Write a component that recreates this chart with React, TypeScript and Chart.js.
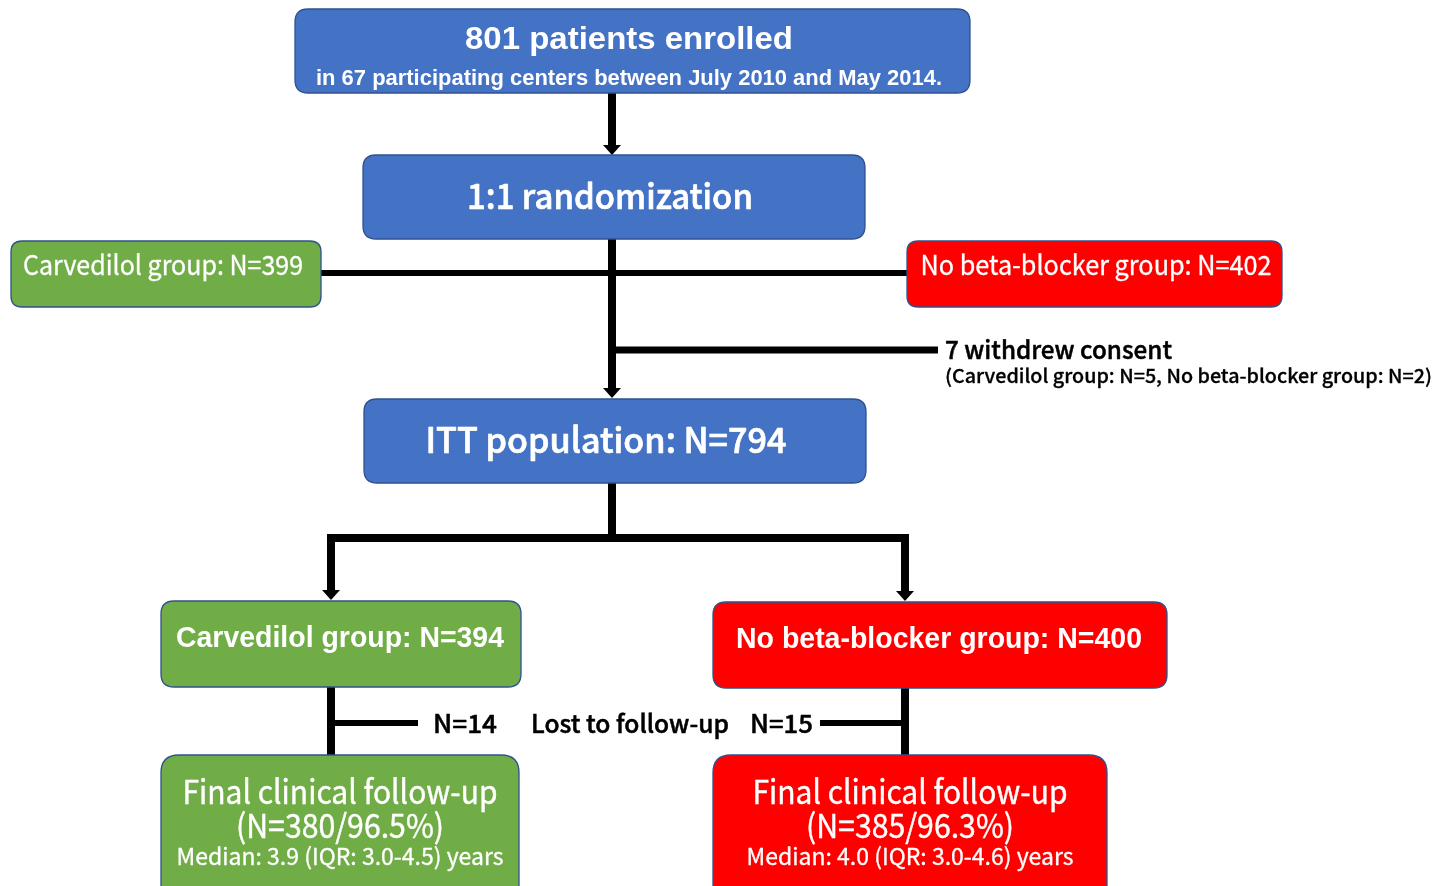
import React, { useEffect, useRef } from "react";
import { Chart, registerables } from "chart.js";

Chart.register(...registerables);

// ---------------- Data ----------------
const enrolled = 801;
const centers = 67;
const enrollStart = "July 2010";
const enrollEnd = "May 2014";
const groupNames = ["Carvedilol group", "No beta-blocker group"];
const randomizedN = [399, 402];
const withdrewN = [5, 2];
const ittN = 794;
const ittGroupN = [394, 400];
const lostN = [14, 15];
const finalN = [380, 385];
const finalPct = [96.5, 96.3];
const medianYears = [3.9, 4.0];
const iqrLow = [3.0, 3.0];
const iqrHigh = [4.5, 4.6];

// ---------------- Layout (in chart units) ----------------
const W = 1449;
const H = 886;
const BLUE = "#4472C4";
const GREEN = "#70AD47";
const RED = "#FF0000";
const EDGE = "#2F528F";
const LIB = "'Liberation Sans', Arial, sans-serif";
const CJK = "'Noto Sans CJK JP', 'Noto Sans', sans-serif";

type Box = { x0: number; y0: number; x1: number; y1: number; fill: string; r: number };
const boxes: Box[] = [
  { x0: 295, y0: 9, x1: 970, y1: 93, fill: BLUE, r: 13 },
  { x0: 363, y0: 155, x1: 865, y1: 239, fill: BLUE, r: 13 },
  { x0: 11, y0: 241, x1: 321, y1: 307, fill: GREEN, r: 11 },
  { x0: 907, y0: 241, x1: 1282, y1: 307, fill: RED, r: 11 },
  { x0: 364, y0: 399, x1: 866, y1: 483, fill: BLUE, r: 13 },
  { x0: 161, y0: 601, x1: 521, y1: 687, fill: GREEN, r: 13 },
  { x0: 713, y0: 602, x1: 1167, y1: 688, fill: RED, r: 13 },
  { x0: 161, y0: 755, x1: 519, y1: 905, fill: GREEN, r: 18 },
  { x0: 713, y0: 755, x1: 1107, y1: 905, fill: RED, r: 18 },
];

type Conn = { pts: [number, number][]; w: number };
const connectors: Conn[] = [
  { pts: [[612, 93], [612, 146]], w: 8 },
  { pts: [[612, 239], [612, 389]], w: 8 },
  { pts: [[321, 273], [907, 273]], w: 6 },
  { pts: [[612, 350], [938, 350]], w: 7 },
  { pts: [[612, 483], [612, 538]], w: 8 },
  { pts: [[331, 591], [331, 538], [905, 538], [905, 592]], w: 8 },
  { pts: [[331, 687], [331, 755]], w: 8 },
  { pts: [[331, 723], [418, 723]], w: 6 },
  { pts: [[905, 688], [905, 755]], w: 8 },
  { pts: [[820, 723], [905, 723]], w: 6 },
];

// arrowheads: x, tip y, width, height
const arrows: [number, number, number, number][] = [
  [612, 155, 18, 10],
  [612, 398, 18, 10],
  [331, 600, 18, 10],
  [905, 601, 18, 10],
];

type Txt = {
  s: string; x: number; y: number; w: number; size: number; fam: string;
  weight: string; align: CanvasTextAlign; color: string; stroke: number;
};
const fmtN = (n: number) => `N=${n}`;
const texts: Txt[] = [
  { s: `${enrolled} patients enrolled`, x: 629, y: 40, w: 328, size: 32, fam: LIB, weight: "bold", align: "center", color: "#fff", stroke: 0 },
  { s: `in ${centers} participating centers between ${enrollStart} and ${enrollEnd}.`, x: 629, y: 79, w: 626, size: 22, fam: LIB, weight: "bold", align: "center", color: "#fff", stroke: 0 },
  { s: "1:1 randomization", x: 610, y: 196, w: 286, size: 35, fam: CJK, weight: "500", align: "center", color: "#fff", stroke: 0.7 },
  { s: `${groupNames[0]}: ${fmtN(randomizedN[0])}`, x: 163, y: 265, w: 280, size: 27, fam: CJK, weight: "400", align: "center", color: "#fff", stroke: 0.3 },
  { s: `${groupNames[1]}: ${fmtN(randomizedN[1])}`, x: 1096, y: 265, w: 351, size: 27, fam: CJK, weight: "400", align: "center", color: "#fff", stroke: 0.3 },
  { s: `${withdrewN[0] + withdrewN[1]} withdrew consent`, x: 945, y: 349, w: 227, size: 25, fam: CJK, weight: "500", align: "left", color: "#000", stroke: 0.5 },
  { s: `(${groupNames[0]}: ${fmtN(withdrewN[0])}, ${groupNames[1]}: ${fmtN(withdrewN[1])})`, x: 945, y: 376, w: 487, size: 19, fam: CJK, weight: "500", align: "left", color: "#000", stroke: 0.3 },
  { s: `ITT population: ${fmtN(ittN)}`, x: 606, y: 440, w: 361, size: 35, fam: CJK, weight: "500", align: "center", color: "#fff", stroke: 0.7 },
  { s: `${groupNames[0]}: ${fmtN(ittGroupN[0])}`, x: 340, y: 639, w: 328, size: 29, fam: LIB, weight: "bold", align: "center", color: "#fff", stroke: 0 },
  { s: `${groupNames[1]}: ${fmtN(ittGroupN[1])}`, x: 939, y: 640, w: 406, size: 29, fam: LIB, weight: "bold", align: "center", color: "#fff", stroke: 0 },
  { s: fmtN(lostN[0]), x: 433, y: 723, w: 64, size: 25, fam: CJK, weight: "500", align: "left", color: "#000", stroke: 0.5 },
  { s: "Lost to follow-up", x: 531, y: 723, w: 198, size: 25, fam: CJK, weight: "500", align: "left", color: "#000", stroke: 0.5 },
  { s: fmtN(lostN[1]), x: 750, y: 723, w: 63, size: 25, fam: CJK, weight: "500", align: "left", color: "#000", stroke: 0.5 },
];
const finalCx = [340, 910];
for (let i = 0; i < 2; i++) {
  texts.push(
    { s: "Final clinical follow-up", x: finalCx[i], y: 791, w: 315, size: 33, fam: CJK, weight: "400", align: "center", color: "#fff", stroke: 0.4 },
    { s: `(${fmtN(finalN[i])}/${finalPct[i].toFixed(1)}%)`, x: finalCx[i], y: 825, w: 208, size: 33, fam: CJK, weight: "400", align: "center", color: "#fff", stroke: 0.4 },
    { s: `Median: ${medianYears[i].toFixed(1)} (IQR: ${iqrLow[i].toFixed(1)}-${iqrHigh[i].toFixed(1)}) years`, x: finalCx[i], y: 856, w: 327, size: 23, fam: CJK, weight: "400", align: "center", color: "#fff", stroke: 0.3 },
  );
}

function roundRect(ctx: CanvasRenderingContext2D, x0: number, y0: number, x1: number, y1: number, r: number) {
  ctx.beginPath();
  ctx.moveTo(x0 + r, y0);
  ctx.lineTo(x1 - r, y0);
  ctx.quadraticCurveTo(x1, y0, x1, y0 + r);
  ctx.lineTo(x1, y1 - r);
  ctx.quadraticCurveTo(x1, y1, x1 - r, y1);
  ctx.lineTo(x0 + r, y1);
  ctx.quadraticCurveTo(x0, y1, x0, y1 - r);
  ctx.lineTo(x0, y0 + r);
  ctx.quadraticCurveTo(x0, y0, x0 + r, y0);
  ctx.closePath();
}

const flowPlugin = {
  id: "flow",
  afterDatasetsDraw(chart: any) {
    const ctx: CanvasRenderingContext2D = chart.ctx;
    const sx = chart.scales.x;
    const sy = chart.scales.y;
    const px = (v: number) => sx.getPixelForValue(v);
    const py = (v: number) => sy.getPixelForValue(v);
    ctx.save();
    // arrowheads
    ctx.fillStyle = "#000";
    for (const [ax, tip, aw, ah] of arrows) {
      ctx.beginPath();
      ctx.moveTo(px(ax - aw / 2), py(tip - ah));
      ctx.lineTo(px(ax + aw / 2), py(tip - ah));
      ctx.lineTo(px(ax), py(tip));
      ctx.closePath();
      ctx.fill();
    }
    // boxes
    for (const b of boxes) {
      roundRect(ctx, px(b.x0), py(b.y0), px(b.x1), py(b.y1), b.r);
      ctx.fillStyle = b.fill;
      ctx.fill();
      ctx.lineWidth = 1.3;
      ctx.strokeStyle = EDGE;
      ctx.stroke();
    }
    // texts
    for (const t of texts) {
      ctx.font = `${t.weight} ${t.size}px ${t.fam}`;
      const mw = ctx.measureText(t.s).width;
      const target = px(t.x + t.w) - px(t.x);
      const k = target / mw;
      ctx.save();
      ctx.translate(px(t.x), py(t.y));
      ctx.scale(k, 1);
      ctx.textAlign = t.align;
      ctx.textBaseline = "middle";
      ctx.fillStyle = t.color;
      ctx.fillText(t.s, 0, 0);
      if (t.stroke > 0) {
        ctx.lineWidth = t.stroke;
        ctx.strokeStyle = t.color;
        ctx.lineJoin = "round";
        ctx.strokeText(t.s, 0, 0);
      }
      ctx.restore();
    }
    ctx.restore();
  },
};

export default function App() {
  const ref = useRef<HTMLCanvasElement>(null);
  useEffect(() => {
    const chart = new Chart(ref.current as HTMLCanvasElement, {
      type: "scatter",
      data: {
        datasets: connectors.map((c) => ({
          data: c.pts.map(([x, y]) => ({ x, y })),
          showLine: true,
          borderColor: "#000",
          backgroundColor: "#000",
          borderWidth: c.w,
          pointRadius: 0,
          borderJoinStyle: "miter" as const,
          borderCapStyle: "butt" as const,
          tension: 0,
          fill: false,
        })),
      },
      options: {
        animation: false,
        responsive: false,
        devicePixelRatio: 1,
        events: [],
        layout: { padding: 0 },
        plugins: { legend: { display: false }, tooltip: { enabled: false } },
        scales: {
          x: { type: "linear", min: 0, max: W, display: false },
          y: { type: "linear", min: 0, max: H, reverse: true, display: false },
        },
      },
      plugins: [flowPlugin],
    } as any);
    return () => chart.destroy();
  }, []);
  return (
    <div style={{ position: "absolute", left: 0, top: 0, width: W, height: H, background: "#fff" }}>
      <canvas ref={ref} width={W} height={H} style={{ display: "block" }} />
    </div>
  );
}
